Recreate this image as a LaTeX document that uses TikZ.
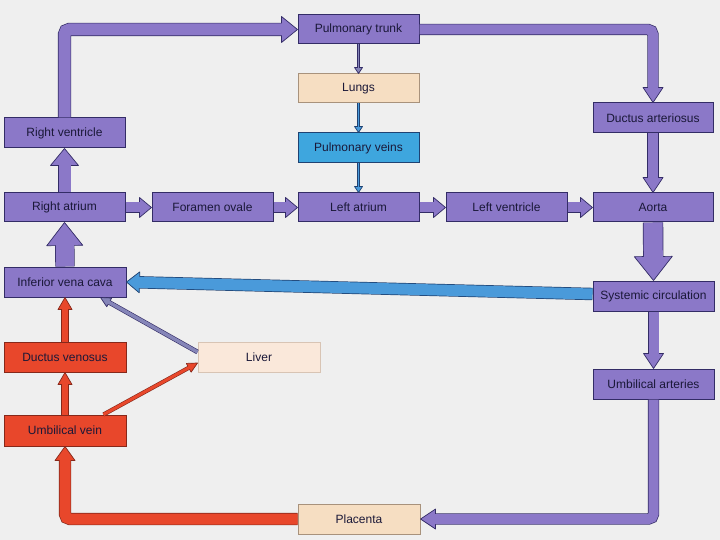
\documentclass[tikz,border=0pt]{standalone}
\usepackage{fontspec}
\setmainfont{Liberation Sans}
\usetikzlibrary{calc}
\definecolor{bg}{HTML}{EFEFEF}
\definecolor{purp}{HTML}{8B78C8}
\definecolor{purpedge}{HTML}{332C66}
\definecolor{redf}{HTML}{E8472B}
\definecolor{rededge}{HTML}{86281A}
\definecolor{beige}{HTML}{F6DEC2}
\definecolor{beigeedge}{HTML}{A8927C}
\definecolor{liverf}{HTML}{FAE8DA}
\definecolor{liveredge}{HTML}{D8C4B4}
\definecolor{bluef}{HTML}{3EA6DE}
\definecolor{blueedge}{HTML}{1F4272}
\definecolor{bluearr}{HTML}{4A9ADA}
\definecolor{greyarr}{HTML}{8585B8}
\definecolor{txt}{HTML}{1A1838}
\newcommand\fatarrow[9]{%
  \coordinate (hb) at ($(#9)!#5!(#8)$);
  \coordinate (hx) at ($(hb)!-1pt!(#8)$);
  \draw[line width=#4, draw=#2, rounded corners=5pt] #7 (hb);
  \filldraw[fill=#1, draw=#2, line width=0.7pt, line join=round]
    (#9) -- ($(hb)!#6!90:(#9)$) -- ($(hb)!#6!-90:(#9)$) -- cycle;
  \draw[line width=#3, draw=#1, rounded corners=5pt] #7 (hx);
}
\begin{document}
\begin{tikzpicture}[x=1pt,y=-1pt,
  box/.style={draw=#1, line width=1pt, minimum width=121pt, minimum height=29pt,
    inner sep=0pt, text=txt, font=\fontsize{12}{14}\selectfont},
  pbox/.style={box=purpedge, fill=purp},
  rbox/.style={box=rededge, fill=redf},
  bbox/.style={box=beigeedge, fill=beige},
  cbox/.style={box=blueedge, fill=bluef}]
\useasboundingbox (0,0) rectangle (720,540);
\fill[bg] (0,0) rectangle (720,540);

% boxes
\node[pbox] (pt) at (358.5,29.5) {Pulmonary trunk};
\node[bbox] (lu) at (358.5,88.5) {Lungs};
\node[cbox, minimum height=30pt] (pv) at (358.5,148) {Pulmonary veins};
\node[pbox] (la) at (358.5,207.5) {Left atrium};
\node[pbox, minimum height=30pt] (rv) at (64.5,133) {Right ventricle};
\node[pbox] (ra) at (64.5,207.5) {Right atrium};
\node[pbox] (fo) at (212.5,207.5) {Foramen ovale};
\node[pbox] (lv) at (506.5,207.5) {Left ventricle};
\node[pbox, minimum width=120pt] (ao) at (653,207.5) {Aorta};
\node[pbox, minimum width=120pt, minimum height=30pt] (da) at (653,118) {Ductus arteriosus};
\node[pbox, minimum height=30pt] (sc) at (653.5,296) {Systemic circulation};
\node[pbox, minimum height=30pt] (ua) at (653.5,384) {Umbilical arteries};
\node[bbox, minimum width=122pt, minimum height=30pt] (pl) at (359,519) {Placenta};
\node[pbox, minimum width=122pt, minimum height=30pt] (ivc) at (65,282) {Inferior vena cava};
\node[rbox, minimum width=122pt, minimum height=30pt] (dv) at (65,357) {Ductus venosus};
\node[rbox, minimum width=122pt, minimum height=31pt] (uv) at (65,430.5) {Umbilical vein};
\node[box=liveredge, fill=liverf, minimum width=122pt, minimum height=30pt] (li) at (259,357) {Liver};

% helper coordinates
\coordinate (c1) at (rv.north |- pt.west);
\coordinate (c2) at (da.north |- pt.east);
\coordinate (c3) at (ua.south |- pl.east);
\coordinate (c4) at (uv.south |- pl.west);
\coordinate (s1) at ($(sc.west)+(0,-2)$);
\coordinate (l1) at ($(li.west)+(0,-5)$);
\coordinate (l2) at ($(ivc.south east)+(-26,0)$);
\coordinate (u1) at ($(uv.north east)+(-23,0)$);
\coordinate (u2) at ($(li.west)+(0,6)$);

% big purple connectors
\fatarrow{purp}{purpedge}{12pt}{13.4pt}{16pt}{13pt}{(rv.north) -- (c1) --}{c1}{pt.west}
\fatarrow{purp}{purpedge}{10pt}{11.4pt}{15pt}{10pt}{(pt.east) -- (c2) --}{c2}{da.north}
\fatarrow{purp}{purpedge}{10pt}{11.4pt}{15pt}{10pt}{(da.south) --}{da.south}{ao.north}
\fatarrow{purp}{purpedge}{12pt}{13.4pt}{17pt}{14pt}{(ra.north) --}{ra.north}{rv.south}
\fatarrow{purp}{purpedge}{10pt}{11.4pt}{12pt}{10pt}{(ra.east) --}{ra.east}{fo.west}
\fatarrow{purp}{purpedge}{10pt}{11.4pt}{12pt}{10pt}{(fo.east) --}{fo.east}{la.west}
\fatarrow{purp}{purpedge}{10pt}{11.4pt}{12pt}{10pt}{(la.east) --}{la.east}{lv.west}
\fatarrow{purp}{purpedge}{10pt}{11.4pt}{12pt}{10pt}{(lv.east) --}{lv.east}{ao.west}
\fatarrow{purp}{purpedge}{19pt}{20.4pt}{24pt}{19pt}{(ao.south) --}{ao.south}{sc.north}
\fatarrow{purp}{purpedge}{10pt}{11.4pt}{15pt}{10pt}{(sc.south) --}{sc.south}{ua.north}
\fatarrow{purp}{purpedge}{10pt}{11.4pt}{15pt}{10pt}{(ua.south) -- (c3) --}{c3}{pl.east}
\fatarrow{purp}{purpedge}{18pt}{19.4pt}{23pt}{18pt}{(ivc.north) --}{ivc.north}{ra.south}

% red connectors
\fatarrow{redf}{rededge}{11pt}{12.4pt}{14pt}{10pt}{(pl.west) -- (c4) --}{c4}{uv.south}
\fatarrow{redf}{rededge}{6pt}{7.4pt}{12pt}{7pt}{(uv.north) --}{uv.north}{dv.south}
\fatarrow{redf}{rededge}{6pt}{7.4pt}{12pt}{7pt}{(dv.north) --}{dv.north}{ivc.south}
\fatarrow{redf}{rededge}{3pt}{4.2pt}{10pt}{5pt}{(u1) --}{u1}{u2}

% liver to IVC
\fatarrow{greyarr}{purpedge}{3.5pt}{4.7pt}{10pt}{5pt}{(l1) --}{l1}{l2}

% systemic circulation to IVC (blue)
\fatarrow{bluearr}{blueedge}{11pt}{12.4pt}{13pt}{10.5pt}{(s1) --}{s1}{ivc.east}

% thin pulmonary arrows
\fatarrow{greyarr}{purpedge}{1.6pt}{2.6pt}{6pt}{4pt}{(pt.south) --}{pt.south}{lu.north}
\fatarrow{bluearr}{blueedge}{1.6pt}{2.6pt}{6pt}{4pt}{(lu.south) --}{lu.south}{pv.north}
\fatarrow{bluearr}{blueedge}{1.6pt}{2.6pt}{6pt}{4pt}{(pv.south) --}{pv.south}{la.north}
\end{tikzpicture}
\end{document}
